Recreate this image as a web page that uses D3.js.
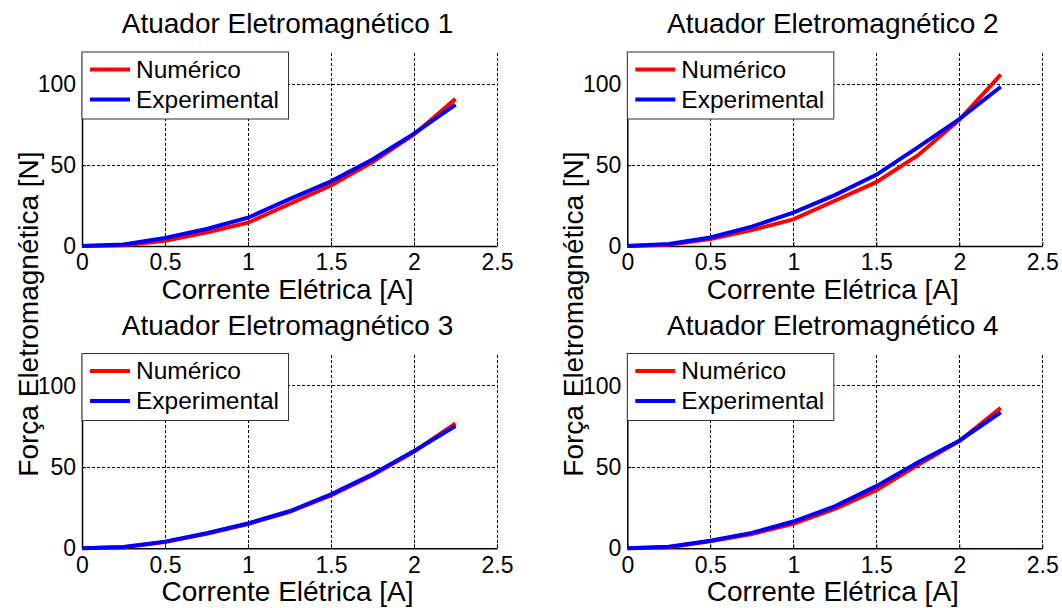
<!DOCTYPE html>
<html>
<head>
<meta charset="utf-8">
<script src="https://cdn.jsdelivr.net/npm/d3@7"></script>
<style>
  body { margin: 0; background: #fff; }
  svg text { font-family: "Liberation Sans", Arial, sans-serif; fill: #000; }
</style>
</head>
<body>
<div class="Graph"></div>
<script>
// dados (corrente [A] x força [N])
const corrente = [0, 0.25, 0.5, 0.75, 1, 1.25, 1.5, 1.75, 2, 2.25];

const numerico1     = [0, 0.5, 3.3, 8.4, 14.4, 26, 37.5, 52, 69, 91];
const experimental1 = [0, 1.0, 5.0, 10.5, 17.5, 29, 40, 53.5, 69.5, 87.5];
const numerico2     = [0, 0.8, 4.3, 9.8, 16.5, 28, 39.5, 56, 78, 106];
const experimental2 = [0, 1.2, 5.3, 12, 20.6, 31.5, 44, 61, 78.5, 98.5];
const numerico3     = [0, 0.6, 3.8, 9, 15, 22.5, 32.5, 45, 59.5, 77];
const experimental3 = [0, 0.8, 4.1, 9.3, 15.3, 22.8, 33.2, 45.6, 60, 75.3];
const numerico4     = [0, 0.6, 4.3, 8.8, 15.1, 24.2, 35.8, 51.3, 66, 86.5];
const experimental4 = [0, 0.9, 4.7, 9.5, 16.5, 25.8, 38.3, 52.8, 66.3, 83.8];

const titulos = ["Atuador Eletromagnético 1", "Atuador Eletromagnético 2",
                 "Atuador Eletromagnético 3", "Atuador Eletromagnético 4"];
const legendas = ["Numérico", "Experimental"];
const cores = ["#ff0000", "#0000ff"];
const xTicks = [0, 0.5, 1, 1.5, 2, 2.5];
const yTicks = [0, 50, 100];
const xLabel = "Corrente Elétrica [A]";
const yLabel = "Força Eletromagnética [N]";

const series = [
  [numerico1, experimental1],
  [numerico2, experimental2],
  [numerico3, experimental3],
  [numerico4, experimental4]
];

// posição de cada subplot (esquerda, topo, base)
const colLeft = [82, 627.3];
const rowTop = [52, 353.5];
const rowBottom = [246, 548.3];
const plotW = 415;

const svg = d3.select(".Graph")
  .append("svg")
  .attr("width", 1062)
  .attr("height", 608);

function draw(k) {//====================================//draw subplot
  const col = k % 2, row = Math.floor(k / 2);
  const left = colLeft[col], top = rowTop[row], bottom = rowBottom[row];

  const x = d3.scaleLinear().domain([0, 2.5]).range([left, left + plotW]);
  const y = d3.scaleLinear().domain([0, 120]).range([bottom, top]);

  const g = svg.append("g");

  // grid pontilhado
  g.append("g").selectAll("line")
    .data(xTicks.slice(1))
    .enter().append("line")
    .attr("x1", d => x(d)).attr("x2", d => x(d))
    .attr("y1", y(0)).attr("y2", y(120))
    .attr("stroke", "#000").attr("stroke-width", 1)
    .attr("shape-rendering", "crispEdges")
    .attr("stroke-dasharray", "3,2");
  g.append("g").selectAll("line")
    .data(yTicks.slice(1))
    .enter().append("line")
    .attr("x1", x(0)).attr("x2", x(2.5))
    .attr("y1", d => y(d)).attr("y2", d => y(d))
    .attr("stroke", "#000").attr("stroke-width", 1)
    .attr("shape-rendering", "crispEdges")
    .attr("stroke-dasharray", "3,2");

  // eixos
  const ax = g.append("g")
    .attr("transform", "translate(0," + bottom + ")")
    .call(d3.axisBottom(x).tickValues(xTicks).tickFormat(d => String(d))
      .tickSizeInner(-4).tickSizeOuter(0).tickPadding(8));
  const ay = g.append("g")
    .attr("transform", "translate(" + left + ",0)")
    .call(d3.axisLeft(y).tickValues(yTicks).tickFormat(d => String(d))
      .tickSizeInner(-4).tickSizeOuter(0).tickPadding(6));
  [ax, ay].forEach(a => {
    a.selectAll("text").style("font-size", "23px").attr("fill", "#000");
    a.select(".domain").attr("stroke", "#000").attr("stroke-width", 1.5);
    a.selectAll(".tick line").attr("stroke", "#000");
  });

  // curvas
  const line = d3.line()
    .x((d, i) => x(corrente[i]))
    .y(d => y(d));
  series[k].forEach((s, j) => {
    g.append("path")
      .datum(s)
      .attr("fill", "none")
      .attr("stroke", cores[j])
      .attr("stroke-width", 4)
      .attr("d", line);
  });

  // título e rótulo x
  g.append("text")
    .attr("x", left + plotW / 2 - 2)
    .attr("y", top - 19)
    .attr("text-anchor", "middle")
    .style("font-size", "28px")
    .text(titulos[k]);
  g.append("text")
    .attr("x", left + plotW / 2 - 2)
    .attr("y", bottom + 53)
    .attr("text-anchor", "middle")
    .style("font-size", "28px")
    .text(xLabel);

  // legenda
  const lg = g.append("g").attr("transform", "translate(" + left + "," + top + ")");
  lg.append("rect")
    .attr("x", 0).attr("y", 0)
    .attr("width", 206.5).attr("height", 67)
    .attr("fill", "#fff").attr("stroke", "#333").attr("stroke-width", 1);
  legendas.forEach((t, j) => {
    const ly = 17.5 + j * 30;
    lg.append("line")
      .attr("x1", 8).attr("x2", 48)
      .attr("y1", ly).attr("y2", ly)
      .attr("stroke", cores[j]).attr("stroke-width", 4);
    lg.append("text")
      .attr("x", 54).attr("y", ly + 8)
      .style("font-size", "24.5px")
      .text(t);
  });
}//====================================================//draw subplot

for (let k = 0; k < 4; k++) draw(k);

// rótulo y, um por coluna
const yLabelX = [38, 583];
yLabelX.forEach(lx => {
  svg.append("text")
    .attr("transform", "translate(" + lx + ",314) rotate(-90)")
    .attr("text-anchor", "middle")
    .style("font-size", "28px")
    .text(yLabel);
});
</script>
</body>
</html>
